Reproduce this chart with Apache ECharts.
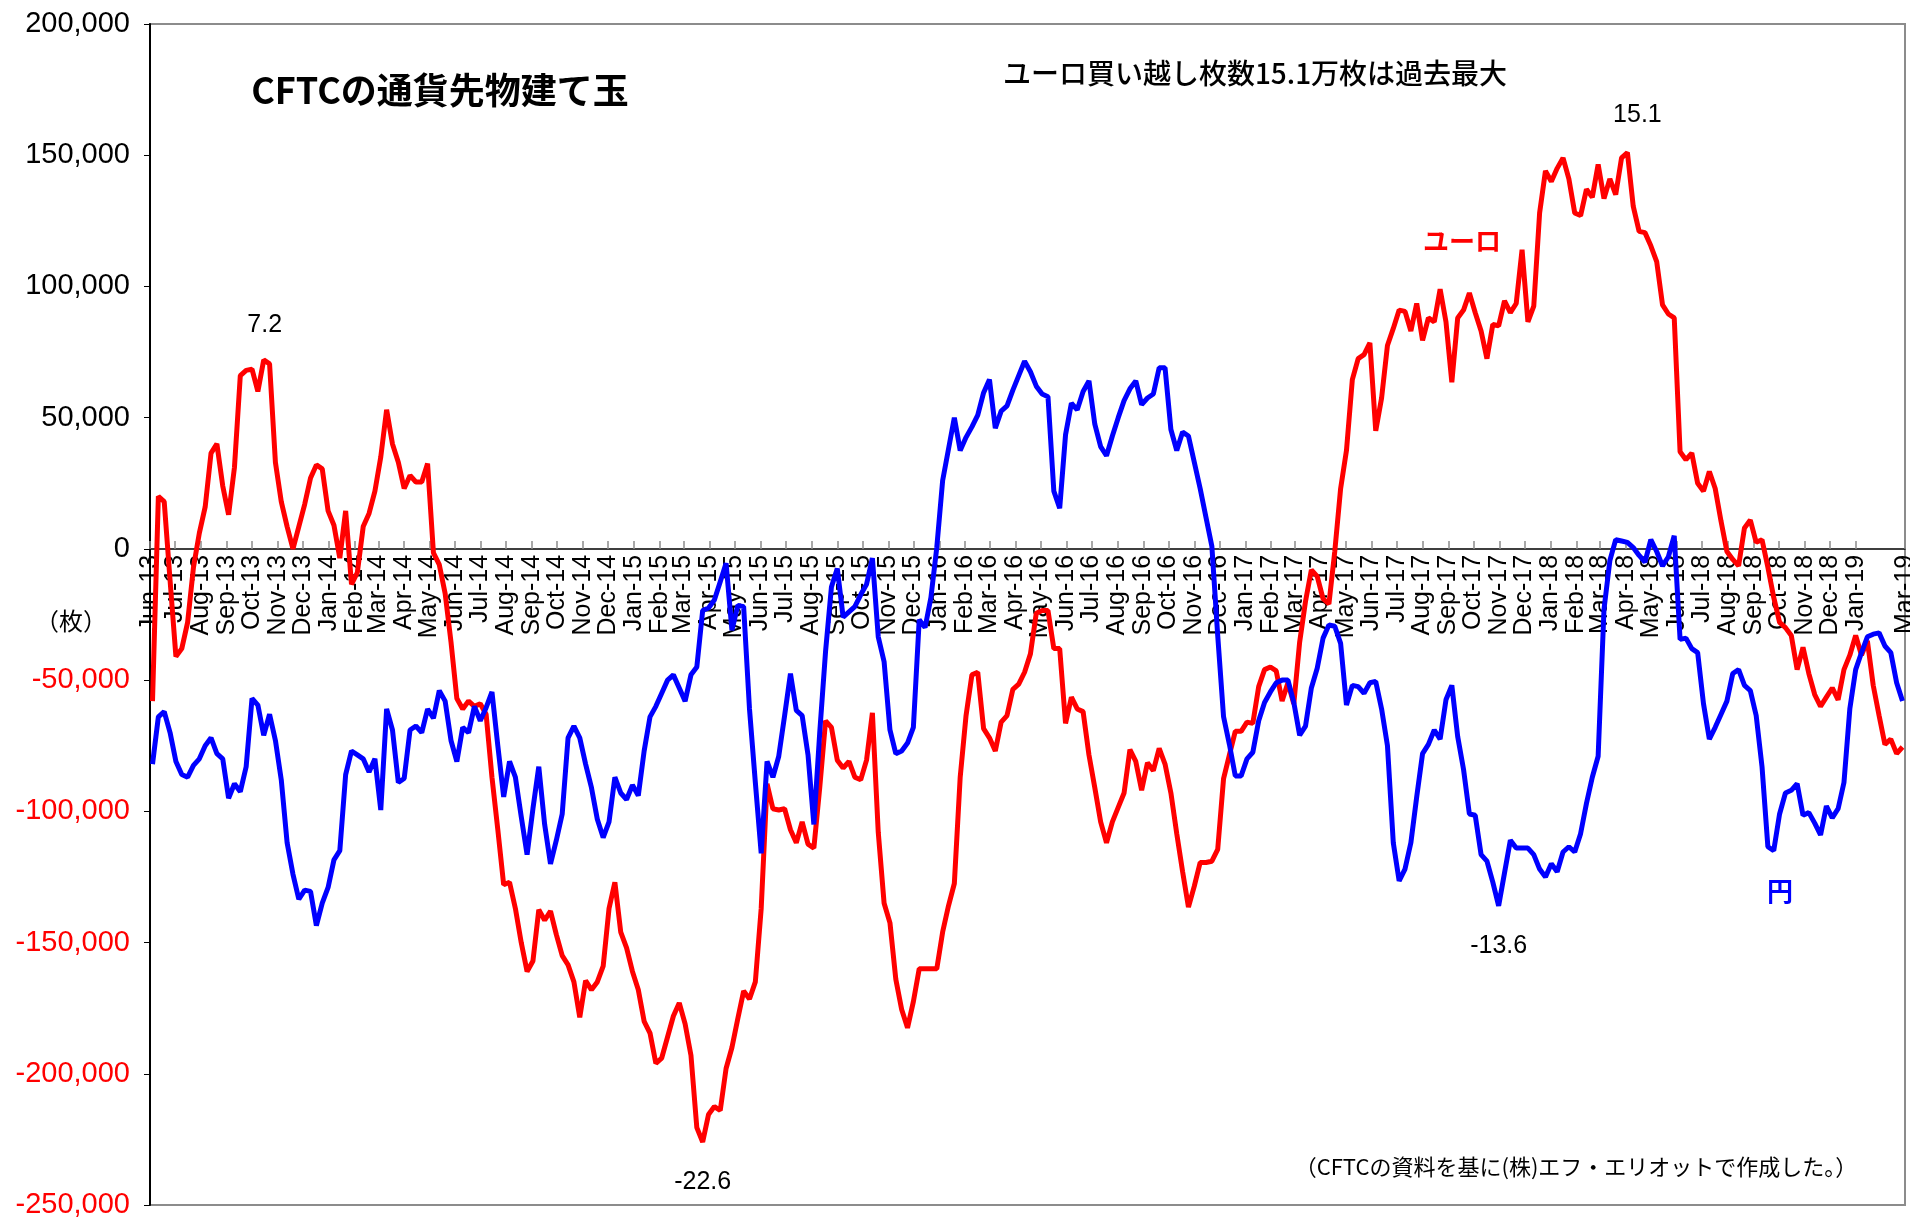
<!DOCTYPE html>
<html>
<head>
<meta charset="utf-8">
<title>CFTCの通貨先物建て玉</title>
<script src="https://cdn.jsdelivr.net/npm/echarts@6/dist/echarts.min.js"></script>
<style>
  body, html { margin: 0; padding: 0; background: #fff; }
  #main { width: 1910px; height: 1220px; }
</style>
</head>
<body>
<div id="main"></div>
<script>
// weekly CFTC net positions (枚), first report 2013-06-04
var firstWeek = [2013, 5, 4];

var euro = [
  -58000, 20000, 18000, -12000, -41000, -38000, -28000, -7000, 6000, 16000,
  36500, 40000, 24000, 13000, 31000, 66000, 68000, 68500, 60000, 72000,
  70500, 33000, 18000, 8500, 0, 8500, 17000, 27000, 32000, 30500,
  14500, 9000, -3500, 14500, -13500, -9000, 8500, 13500, 22000, 35000,
  53000, 40000, 33000, 23000, 28000, 25500, 25500, 32500, -1500, -6000,
  -17000, -35500, -57000, -61000, -58000, -60000, -59000, -63000, -87000, -107000,
  -128000, -127000, -137000, -150000, -161000, -157000, -137500, -141500, -138000, -147000,
  -155000, -158500, -165000, -178500, -164500, -168000, -165000, -159000, -137000, -127000,
  -146000, -152000, -161000, -168000, -180000, -184500, -196000, -194000, -186000, -178000,
  -173000, -181000, -193000, -220500, -226000, -215500, -212500, -214000, -198000, -190000,
  -179000, -168500, -171500, -165000, -137000, -89500, -99000, -99500, -99000, -107000,
  -112000, -104000, -112500, -114000, -91000, -65500, -68000, -80500, -83500, -81000,
  -87000, -88000, -80500, -62500, -108000, -135000, -142500, -164000, -175500, -182500,
  -172500, -160000, -160000, -160000, -160000, -146000, -136000, -127500, -87000, -63500,
  -48000, -47000, -68500, -72000, -77000, -66000, -63500, -53500, -51500, -47000,
  -40000, -24500, -23500, -23500, -38000, -38000, -66500, -56500, -61000, -62000,
  -78500, -91000, -104000, -112000, -104000, -98500, -93000, -76500, -81000, -92000,
  -81500, -84500, -76000, -82000, -93000, -108500, -123000, -136500, -128500, -119500,
  -119500, -119000, -114500, -87500, -78500, -69500, -69500, -66000, -66500, -52500,
  -46000, -45000, -46500, -58000, -51000, -59000, -35500, -20000, -8000, -10500,
  -19000, -21000, -1000, 23000, 37500, 64500, 72500, 74000, 78500, 45000,
  57500, 77500, 84000, 91000, 90500, 83000, 93500, 79500, 88000, 86500,
  99000, 86500, 63500, 88000, 91000, 97500, 90000, 83000, 72500, 85500,
  85000, 94500, 90000, 93500, 114000, 86500, 92500, 128000, 144000, 140000,
  145000, 149000, 141000, 128000, 127000, 137000, 134000, 146500, 133500, 141000,
  135000, 149000, 151000, 130500, 121000, 120500, 115500, 109500, 93000, 89500,
  88000, 37000, 34000, 36500, 25000, 22000, 29500, 23000, 10500, -1000,
  -4000, -6500, 8000, 11000, 2500, 3500, -7000, -18500, -28000, -30000,
  -33000, -46000, -37500, -47500, -55500, -60000, -56500, -53000, -57500, -46000,
  -40500, -33000, -40500, -35000, -52000, -63500, -74500, -72500, -78000, -75500
];

var yen = [
  -82000, -64000, -62000, -70000, -81000, -86000, -87000, -82500, -80000, -75000,
  -72000, -78000, -80000, -95000, -89500, -92500, -83000, -57000, -59500, -71000,
  -63000, -73000, -88000, -112000, -124000, -133500, -130000, -130500, -143500, -135000,
  -129000, -118500, -115000, -86000, -77000, -78500, -80000, -85000, -80000, -99500,
  -61000, -69000, -89000, -87500, -69000, -67500, -70000, -61000, -64500, -54000,
  -58000, -73000, -81000, -68000, -70000, -60000, -65500, -60500, -54500, -75000,
  -94500, -81000, -87000, -102000, -116500, -99000, -83000, -105000, -120000, -111000,
  -101000, -72000, -67500, -72000, -82000, -91000, -103000, -110000, -104000, -87000,
  -93000, -95500, -90000, -94000, -77000, -64000, -60000, -55000, -50000, -48000,
  -53000, -58000, -48000, -45000, -23500, -22500, -19500, -12500, -5500, -31000,
  -21500, -22000, -61000, -89000, -116000, -81000, -87000, -79000, -63500, -47500,
  -61500, -63500, -78500, -105000, -70000, -39000, -14500, -7500, -26000, -24000,
  -22000, -17500, -13500, -3500, -33500, -43000, -69000, -78000, -77000, -74000,
  -68000, -27000, -30000, -18500, 500, 26000, 38000, 50000, 37500, 42500,
  46500, 51000, 59500, 64500, 46000, 52500, 54500, 60500, 66000, 71500,
  67500, 62000, 59000, 58000, 22000, 15500, 43500, 55500, 53000, 60000,
  64000, 47500, 39000, 35500, 43000, 50000, 56500, 61000, 64000, 55000,
  57500, 59000, 69000, 69000, 45500, 37500, 44500, 43000, 33000, 23000,
  12000, 1000, -33000, -64000, -74500, -86500, -86500, -80000, -77500, -65500,
  -58500, -54500, -51000, -50000, -50000, -58500, -71000, -67500, -53000, -45500,
  -34000, -29000, -29500, -36000, -59500, -52000, -52500, -55000, -51000, -50500,
  -61000, -75000, -112000, -126500, -122000, -112000, -94500, -78000, -74500, -69000,
  -72500, -57500, -52000, -71500, -84000, -101000, -101500, -116500, -119000, -127000,
  -136000, -123500, -111000, -114000, -114000, -114000, -116500, -122000, -125000, -120000,
  -123000, -115500, -113500, -115500, -108500, -97000, -87000, -79000, -23000, -4500,
  3500, 3000, 2500, 500, -2500, -5000, 3500, -1000, -6500, -3000,
  5000, -34500, -34000, -38000, -39500, -59000, -72500, -68000, -63000, -58000,
  -47500, -46000, -52000, -54000, -63500, -83000, -113500, -115000, -101000, -93000,
  -92000, -89500, -101500, -100500, -104500, -109000, -98000, -102500, -99000, -89000,
  -61000, -46000, -39500, -33500, -32500, -32000, -37000, -39500, -51000, -58000
];

var monthNames = ['Jan', 'Feb', 'Mar', 'Apr', 'May', 'Jun', 'Jul', 'Aug', 'Sep', 'Oct', 'Nov', 'Dec'];
var axisStart = [2013, 5, 1];   // Jun-13
var axisEnd = [2019, 2, 1];     // Mar-19
var yTicks = [200000, 150000, 100000, 50000, 0, -50000, -100000, -150000, -200000, -250000];

// weeks that get a 万枚 label
var euroNotes = [19, 94, 252];
var yenNotes = [230];

var weeks = [];
for (var i = 0; i < euro.length; i++) {
  weeks.push(new Date(firstWeek[0], firstWeek[1], firstWeek[2] + 7 * i).getTime());
}
var tMin = new Date(axisStart[0], axisStart[1], axisStart[2]).getTime();
var tMax = new Date(axisEnd[0], axisEnd[1], axisEnd[2]).getTime();
var monthTicks = [];
for (var m = 0; ; m++) {
  var t = new Date(axisStart[0], axisStart[1] + m, 1).getTime();
  if (t > tMax) break;
  monthTicks.push(t);
}

function pairs(vals) {
  return vals.map(function (v, i) { return [weeks[i], v]; });
}
function man(v) { return (v / 10000).toFixed(1); }

var offsets = { 19: [1, -35], 94: [0, 40], 252: [10, -37], 230: [0, 40] };
function notes(idx, vals) {
  return idx.map(function (i) {
    return { coord: [weeks[i], vals[i]], value: vals[i], label: { offset: offsets[i] } };
  });
}
var noteStyle = {
  symbol: 'circle', symbolSize: 1,
  itemStyle: { color: 'rgba(0,0,0,0)' },
  label: {
    show: true, position: 'inside', color: '#000',
    fontFamily: 'Liberation Sans', fontSize: 25,
    formatter: function (p) { return man(p.value); }
  }
};

var chart = echarts.init(document.getElementById('main'));

var option = {
  backgroundColor: '#fff',
  animation: false,
  grid: {
    left: 150, right: 5, top: 24, bottom: 15,
    outerBoundsMode: 'none',
    show: true, borderColor: '#8c8c8c', borderWidth: 2
  },
  xAxis: {
    type: 'value',
    min: tMin, max: tMax,
    axisLine: { onZero: false, lineStyle: { color: '#000', width: 1.5 } },
    axisTick: { show: true, inside: true, length: 8, customValues: monthTicks, lineStyle: { color: '#8c8c8c', width: 1.5 } },
    axisLabel: {
      customValues: monthTicks,
      showMinLabel: true, showMaxLabel: true,
      rotate: 90, margin: 6,
      fontFamily: 'Liberation Sans', fontSize: 25, color: '#000',
      formatter: function (v) {
        var d = new Date(Number(v));
        return monthNames[d.getMonth()] + '-' + String(d.getFullYear()).slice(2);
      }
    },
    splitLine: { show: false }
  },
  yAxis: {
    type: 'value',
    min: yTicks[yTicks.length - 1], max: yTicks[0], interval: 50000,
    axisLine: { show: true, lineStyle: { color: '#000', width: 2 } },
    axisTick: { show: true, length: 6, lineStyle: { color: '#000' } },
    axisLabel: {
      margin: 20,
      fontFamily: 'Liberation Sans', fontSize: 29,
      color: function (v) { return Number(v) < 0 ? '#ff0000' : '#000'; },
      formatter: function (v) { return echarts.format.addCommas(v); }
    },
    splitLine: { show: false }
  },
  series: [
    {
      name: 'ユーロ', type: 'line', data: pairs(euro),
      symbol: 'none', z: 3,
      lineStyle: { color: '#ff0000', width: 5 },
      itemStyle: { color: '#ff0000' },
      markPoint: Object.assign({ data: notes(euroNotes, euro) }, noteStyle)
    },
    {
      name: '円', type: 'line', data: pairs(yen),
      symbol: 'none', z: 4,
      lineStyle: { color: '#0000ff', width: 5 },
      itemStyle: { color: '#0000ff' },
      markPoint: Object.assign({ data: notes(yenNotes, yen) }, noteStyle)
    }
  ],
  graphic: [
    { type: 'text', x: 440, y: 90, style: { text: 'CFTCの通貨先物建て玉', font: 'bold 36px "Noto Sans CJK JP"', fill: '#000', align: 'center', verticalAlign: 'middle' } },
    { type: 'text', x: 1255, y: 73, style: { text: 'ユーロ買い越し枚数15.1万枚は過去最大', font: '500 28px "Noto Sans CJK JP"', fill: '#000', align: 'center', verticalAlign: 'middle' } },
    { type: 'text', x: 1462, y: 241, style: { text: 'ユーロ', font: 'bold 26px "Noto Sans CJK JP"', fill: '#ff0000', align: 'center', verticalAlign: 'middle' } },
    { type: 'text', x: 1780, y: 891, style: { text: '円', font: 'bold 26px "Noto Sans CJK JP"', fill: '#0000ff', align: 'center', verticalAlign: 'middle' } },
    { type: 'text', x: 71, y: 621, style: { text: '（枚）', font: '24px "Noto Sans CJK JP"', fill: '#000', align: 'center', verticalAlign: 'middle' } },
    { type: 'text', x: 1576, y: 1167, style: { text: '（CFTCの資料を基に(株)エフ・エリオットで作成した。）', font: '22px "Noto Sans CJK JP"', fill: '#000', align: 'center', verticalAlign: 'middle' } }
  ]
};

chart.setOption(option);

// lift the date axis up to the zero line
var zeroY = chart.convertToPixel({ yAxisIndex: 0 }, 0);
var bottomY = chart.convertToPixel({ yAxisIndex: 0 }, yTicks[yTicks.length - 1]);
chart.setOption({ xAxis: { offset: zeroY - bottomY } });
</script>
</body>
</html>
